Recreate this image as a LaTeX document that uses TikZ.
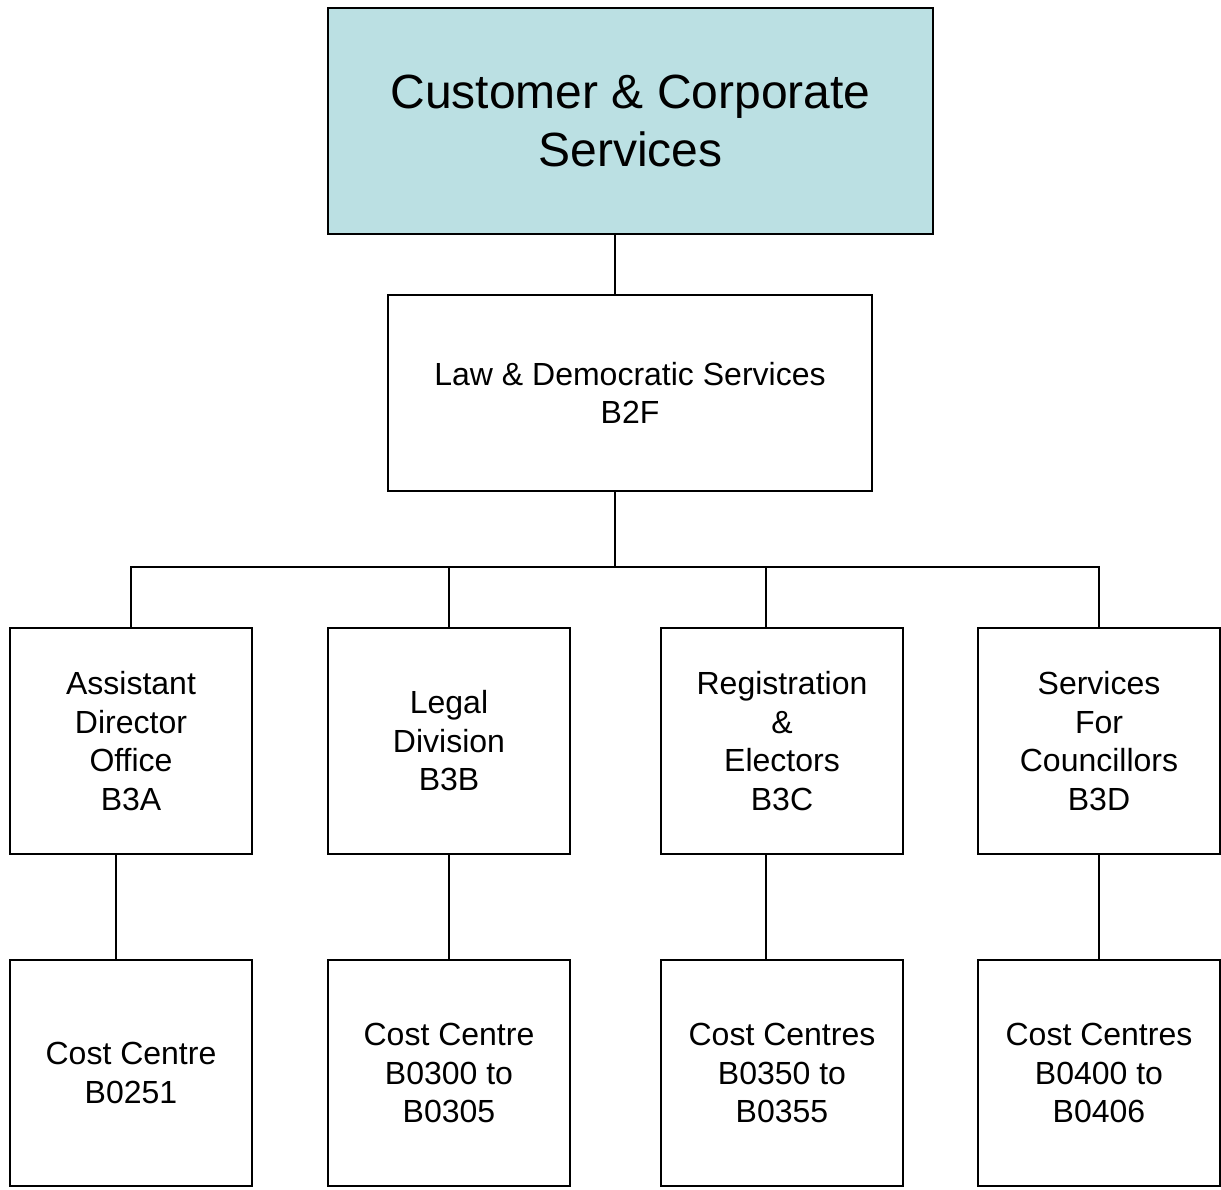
\documentclass[tikz,border=0pt]{standalone}
\usepackage{fontspec}
\setmainfont{Liberation Sans}
\usepackage{tikz}
\definecolor{headfill}{RGB}{187,224,227}

\begin{document}
\begin{tikzpicture}[x=1pt,y=-1pt,line width=1.5pt,
        unit/.style={draw,align=center,inner sep=0pt,minimum width=242pt,minimum height=226pt,
            font=\fontsize{32}{38.5}\selectfont}]
    \useasboundingbox (0,0) rectangle (1221,1189);

    \node[draw,fill=headfill,align=center,inner sep=0pt,minimum width=605pt,minimum height=226pt,
        font=\fontsize{48}{58}\selectfont] (ccs) at (630.5,121) {Customer \& Corporate\\Services};
    \node[unit,minimum width=484pt,minimum height=196pt] (b2f) at (630,393) {Law \& Democratic Services\\B2F};

    \foreach \n/\x/\t in {b3a/131/{Assistant\\Director\\Office\\B3A},
                          b3b/449/{Legal\\Division\\B3B},
                          b3c/782/{Registration\\\&\\Electors\\B3C},
                          b3d/1099/{Services\\For\\Councillors\\B3D}} {
        \node[unit] (\n) at (\x,741) {\t};
    }
    \foreach \n/\x/\t in {cc3a/131/{Cost Centre\\B0251},
                          cc3b/449/{Cost Centre\\B0300 to\\B0305},
                          cc3c/782/{Cost Centres\\B0350 to\\B0355},
                          cc3d/1099/{Cost Centres\\B0400 to\\B0406}} {
        \node[unit] (\n) at (\x,1073) {\t};
    }

    \coordinate (bus) at (615,567);
    \draw ([xshift=-15.5pt]ccs.south) -- ([xshift=-15pt]b2f.north);
    \draw (b2f.south -| bus) -- (bus);
    \foreach \n/\dx in {b3a/0,b3b/0,b3c/-16,b3d/0} {
        \draw ([xshift=\dx pt]\n.north) |- (bus);
    }
    \foreach \n/\m/\dx in {b3a/cc3a/-15,b3b/cc3b/0,b3c/cc3c/-16,b3d/cc3d/0} {
        \draw ([xshift=\dx pt]\n.south) -- ([xshift=\dx pt]\m.north);
    }
\end{tikzpicture}
\end{document}
